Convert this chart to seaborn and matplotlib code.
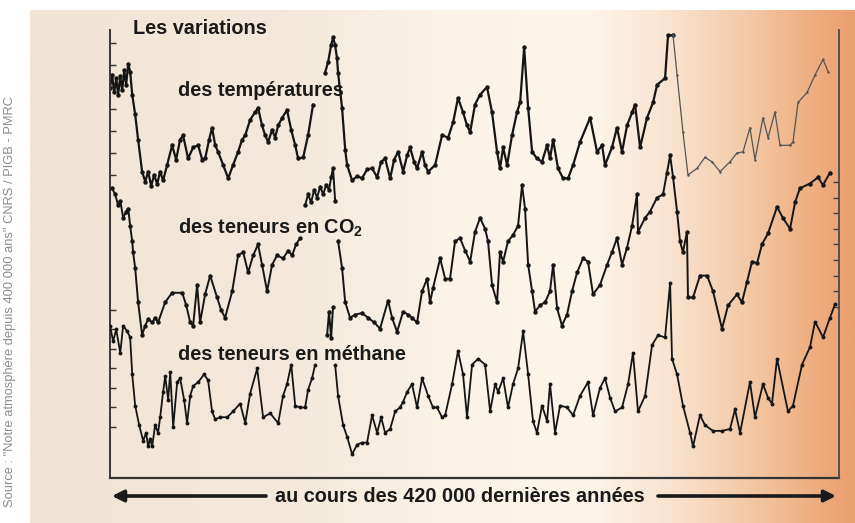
import numpy as np
import pandas as pd
import matplotlib
matplotlib.use('Agg')
import matplotlib.pyplot as plt
from matplotlib.colors import LinearSegmentedColormap
import seaborn as sns

# Vostok : âge en milliers d'années avant aujourd'hui, valeurs lues sur la figure
# température (écart en °C), deux tronçons séparés par une lacune
temp_age_1 = [420.0, 418.8, 417.6, 416.4, 415.3, 414.1, 413.0, 411.8, 410.7, 409.5,
              408.4, 407.2, 405.5, 403.8, 401.5, 399.7, 398.0, 396.3, 394.6, 392.8,
              391.1, 389.4, 387.1, 384.2, 381.9, 379.6, 377.9, 375.0, 372.1, 369.2,
              366.9, 365.2, 362.9, 361.2, 359.4, 357.7, 354.8, 351.9, 349.1, 346.2,
              343.9, 342.1, 339.3, 336.4, 334.7, 332.4, 330.6, 328.9, 326.6, 324.9,
              323.1, 320.8, 318.0, 315.6, 313.3, 311.6, 308.7, 305.9, 303.0]
temp_val_1 = [-0.1, 1.1, -0.5, 0.8, -0.7, 1.0, -0.3, 1.5, 0.2, 2.1,
              1.4, -0.7, -2.5, -4.8, -7.7, -8.6, -7.7, -9.0, -8.0, -8.8,
              -7.7, -8.5, -7.1, -5.3, -6.6, -4.8, -4.4, -6.5, -5.5, -5.3,
              -6.6, -6.5, -4.8, -3.7, -5.3, -5.9, -7.1, -8.3, -7.1, -5.9,
              -4.8, -4.4, -3.0, -2.3, -1.9, -3.5, -4.4, -5.0, -3.9, -4.6,
              -3.5, -2.8, -2.1, -3.9, -5.3, -6.5, -6.4, -4.4, -1.6]
temp_age_2 = [296.1, 294.3, 292.6, 291.5, 290.3, 289.2, 288.6, 286.3, 284.5, 283.4,
              280.5, 277.6, 274.8, 271.9, 269.0, 266.1, 263.8, 261.5, 258.6, 256.3,
              254.0, 251.1, 248.8, 247.1, 244.8, 243.1, 240.2, 238.5, 236.7, 232.7,
              228.7, 225.2, 222.3, 219.5, 216.6, 214.3, 212.5, 209.7, 206.8, 202.8,
              199.9, 197.0, 195.3, 193.5, 191.2, 188.4, 185.5, 183.7, 181.4, 179.1,
              176.8, 174.0, 171.1, 168.2, 166.5, 164.7, 161.9, 159.0, 156.1, 153.2,
              149.2, 143.4, 139.4, 136.5, 134.8, 130.8, 127.9, 125.0, 122.1, 119.2,
              117.5, 114.6, 110.6, 107.1, 104.8, 100.2, 98.5, 95.6, 93.3, 89.9,
              87.0, 81.8, 77.2, 73.2, 68.5, 62.8, 58.8, 55.3, 51.3, 48.4,
              43.8, 40.9, 36.9, 34.0, 28.2, 26.5, 23.6, 18.4, 13.8, 9.2, 6.3]
temp_val_2 = [1.3, 2.3, 3.8, 4.5, 3.8, 2.6, 1.3, -1.9, -5.7, -7.1,
              -8.5, -8.1, -8.3, -7.5, -7.4, -8.2, -6.8, -6.5, -8.3, -6.6,
              -5.9, -7.7, -6.2, -5.5, -6.8, -7.4, -5.9, -7.1, -7.7, -7.1,
              -4.4, -4.6, -3.2, -1.0, -2.3, -3.5, -4.1, -1.6, -0.7, 0.0,
              -2.3, -5.9, -7.4, -5.5, -7.1, -4.4, -2.3, -1.4, 3.6, -1.9,
              -5.9, -6.5, -6.8, -5.3, -6.5, -4.8, -7.4, -8.3, -8.3, -7.1,
              -5.0, -2.8, -5.9, -5.3, -7.1, -5.5, -3.7, -5.9, -3.5, -2.3,
              -1.6, -5.5, -2.8, -1.4, 0.2, 0.8, 4.7, 4.7, 1.1, -4.1,
              -8.0, -7.4, -6.4, -6.8, -7.7, -6.8, -6.0, -5.9, -3.7, -6.6,
              -2.8, -4.6, -2.3, -5.3, -5.3, -5.0, -1.4, -0.5, 1.1, 2.5, 1.4]

# CO2 (ppmv), quatre tronçons
co2_age_1 = [418.8, 417.0, 415.3, 414.1, 412.4, 410.7, 409.5, 408.4, 407.2, 406.7,
             405.5, 403.8, 401.5, 399.7, 398.0, 395.7, 394.0, 392.3, 388.2, 384.2,
             378.4, 376.1, 373.8, 372.1, 369.8, 368.1, 365.2, 362.3, 358.3, 356.0,
             353.7, 349.6, 346.2, 343.3, 340.4, 337.5, 334.7, 332.4, 329.5, 326.6,
             323.7, 320.3, 317.4, 315.1, 312.8, 310.5]
co2_val_1 = [276, 272, 265, 268, 257, 261, 263, 252, 242, 235,
             225, 203, 182, 188, 192, 190, 193, 190, 203, 209,
             209, 201, 190, 188, 214, 190, 208, 220, 206, 198,
             193, 210, 233, 235, 222, 233, 240, 227, 210, 227,
             233, 231, 236, 233, 240, 244]
co2_age_2 = [307.6, 305.9, 304.1, 302.4, 300.7, 298.9, 297.2, 295.5, 293.8, 292.6, 291.5, 290.3]
co2_val_2 = [265, 272, 267, 275, 270, 277, 272, 278, 275, 283, 289, 268]
co2_age_3 = [294.9, 293.8, 292.6, 291.5]
co2_val_3 = [182, 197, 180, 200]
co2_age_4 = [288.6, 286.3, 284.5, 281.7, 278.8, 274.8, 271.3, 267.8, 264.4, 259.8,
             257.5, 254.6, 251.1, 248.3, 246.0, 243.1, 240.2, 237.3, 235.6, 233.9,
             229.8, 226.9, 224.1, 221.2, 218.3, 215.4, 212.5, 209.7, 206.8, 203.9,
             202.2, 199.9, 197.0, 195.3, 193.5, 190.7, 187.8, 184.9, 182.6, 180.9,
             179.1, 176.8, 175.1, 172.2, 169.3, 166.5, 164.7, 162.4, 159.6, 156.7,
             153.8, 150.9, 147.5, 144.6, 141.7, 137.7, 133.6, 130.8, 127.9, 125.0,
             122.1, 119.2, 116.4, 115.8, 111.7, 108.9, 104.8, 101.4, 99.1, 97.3,
             95.6, 93.3, 91.6, 89.9, 87.6, 87.0, 84.1, 80.1, 76.0, 72.6,
             67.4, 63.9, 58.8, 55.9, 53.0, 50.1, 47.2, 44.4, 40.9, 35.7,
             32.3, 28.2, 25.3, 22.5, 16.7, 12.1, 9.2, 5.2]
co2_val_4 = [242, 225, 203, 193, 195, 196, 193, 190, 186, 204,
             193, 184, 197, 195, 193, 190, 210, 218, 203, 212,
             231, 218, 218, 242, 244, 236, 229, 248, 257, 250,
             242, 214, 203, 235, 229, 242, 246, 252, 278, 263,
             227, 210, 197, 201, 203, 210, 227, 199, 188, 195,
             210, 222, 231, 229, 208, 214, 227, 235, 244, 227,
             238, 252, 272, 248, 257, 261, 270, 272, 286, 297,
             283, 261, 242, 235, 248, 206, 206, 220, 220, 210,
             186, 201, 208, 203, 216, 229, 228, 240, 247, 264,
             257, 250, 267, 276, 279, 283, 278, 286]

# méthane (ppbv), deux tronçons
ch4_age_1 = [420.0, 418.2, 416.4, 414.1, 412.4, 410.1, 408.4, 407.2, 405.5, 403.2,
             400.9, 399.2, 398.0, 396.9, 395.7, 394.0, 392.3, 391.1, 389.4, 388.2,
             386.5, 385.3, 383.6, 381.3, 379.6, 377.3, 375.6, 373.8, 372.1, 369.2,
             365.8, 363.5, 361.2, 359.4, 356.5, 352.5, 349.1, 345.0, 342.1, 339.3,
             335.2, 331.8, 327.7, 323.1, 320.3, 318.0, 315.6, 313.3, 310.5, 307.6,
             305.9, 303.6, 301.8]
ch4_val_1 = [660, 620, 650, 590, 660, 645, 630, 535, 455, 405,
             365, 385, 350, 370, 350, 405, 385, 425, 490, 530,
             470, 540, 400, 515, 525, 470, 410, 480, 505, 515,
             535, 520, 440, 420, 425, 425, 440, 460, 410, 485,
             550, 425, 435, 410, 480, 510, 560, 455, 450, 450,
             495, 525, 560]
ch4_age_2 = [290.3, 288.6, 285.7, 283.4, 280.5, 277.6, 274.8, 271.9, 269.0, 266.1,
             263.8, 261.5, 258.6, 255.7, 252.9, 251.1, 248.8, 246.0, 243.1, 240.2,
             236.7, 233.9, 231.6, 228.7, 226.9, 222.9, 219.5, 216.6, 214.3, 211.4,
             207.9, 203.9, 201.0, 198.1, 196.4, 193.5, 190.7, 187.8, 184.9, 182.0,
             179.1, 176.3, 174.0, 171.1, 168.2, 166.5, 163.6, 160.7, 156.7, 153.2,
             149.2, 144.6, 141.7, 137.7, 134.8, 131.9, 129.0, 125.0, 121.5, 118.7,
             115.8, 111.7, 107.7, 104.3, 100.2, 97.3, 96.2, 93.3, 89.9, 85.8,
             84.1, 80.1, 77.2, 72.6, 67.4, 62.8, 59.9, 57.0, 51.3, 48.4,
             43.8, 40.9, 38.6, 35.7, 29.4, 26.5, 21.3, 16.7, 13.8, 9.2, 5.2, 2.3]
ch4_val_2 = [560, 480, 405, 375, 330, 355, 360, 360, 430, 385,
             425, 385, 395, 440, 450, 465, 490, 510, 450, 525,
             480, 450, 450, 425, 430, 510, 595, 535, 425, 560,
             575, 560, 440, 510, 490, 525, 450, 510, 550, 645,
             535, 415, 385, 455, 415, 510, 385, 455, 450, 430,
             480, 515, 430, 500, 525, 475, 440, 450, 510, 590,
             440, 480, 610, 635, 630, 770, 575, 535, 455, 385,
             350, 430, 405, 390, 390, 395, 445, 385, 515, 425,
             510, 475, 460, 575, 440, 455, 560, 605, 670, 630, 680, 715]

texte_source = 'Source : "Notre atmosphère depuis 400 000 ans" CNRS / PIGB - PMRC'


def tronçons(*paires):
    lignes = []
    for k, (ages, vals) in enumerate(paires):
        for a, v in zip(ages, vals):
            lignes.append((k, a, v))
    return pd.DataFrame(lignes, columns=['troncon', 'age', 'valeur'])


df_temp = tronçons((temp_age_1, temp_val_1), (temp_age_2, temp_val_2))
df_co2 = tronçons((co2_age_1, co2_val_1), (co2_age_2, co2_val_2),
                  (co2_age_3, co2_val_3), (co2_age_4, co2_val_4))
df_ch4 = tronçons((ch4_age_1, ch4_val_1), (ch4_age_2, ch4_val_2))

# la partie récente de la courbe des températures est tracée en trait fin
temp_ancien = df_temp[df_temp['age'] >= 95.6]
temp_recent = df_temp[df_temp['age'] <= 95.6]

sns.set_style('white')
plt.rcParams['font.family'] = ['Liberation Sans', 'DejaVu Sans']

fig = plt.figure(figsize=(8.55, 5.23), dpi=100)
fig.patch.set_facecolor('white')

# fond en dégradé beige -> orangé
fond = fig.add_axes([30 / 855, 0, 825 / 855, 513 / 523])
degrade = LinearSegmentedColormap.from_list('fond', [
    (0.0, '#f1e5d6'), (0.3, '#f3e8db'), (0.5, '#fbf2e8'), (0.68, '#fdf4ea'),
    (0.78, '#f9e3cf'), (0.88, '#f3c6a2'), (0.95, '#eeae81'), (1.0, '#ea9f70')])
fond.imshow(np.linspace(0, 1, 600)[None, :], aspect='auto', cmap=degrade,
            extent=(0, 1, 0, 1))
fond.set_axis_off()

ax = fig.add_axes([110 / 855, 45 / 523, 729 / 855, 448 / 523])
ax.patch.set_alpha(0)
ax_c = ax.twinx()
ax_m = ax.twinx()

style = dict(units='troncon', estimator=None, legend=False, marker='o',
             markeredgewidth=0)
sns.lineplot(data=temp_ancien, x='age', y='valeur', ax=ax, color='#151515',
             lw=1.6, markersize=3.2, **style)
sns.lineplot(data=temp_recent, x='age', y='valeur', ax=ax, color='#555555',
             lw=0.9, markersize=1.8, **style)
sns.lineplot(data=df_co2, x='age', y='valeur', ax=ax_c, color='#151515',
             lw=1.4, markersize=3.2, **style)
sns.lineplot(data=df_ch4, x='age', y='valeur', ax=ax_m, color='#151515',
             lw=1.3, markersize=2.8, **style)

for a in (ax, ax_c, ax_m):
    a.set_xlabel('')
    a.set_ylabel('')
    for s in a.spines.values():
        s.set_visible(False)

ax.set_xlim(420, 0)
ax.set_xticks([320, 220, 120, 20])
ax.set_xticklabels([])
ax.tick_params(axis='x', direction='in', length=9.5, width=1.3, color='#333333')

ax.set_ylim(-35.55, 5.18)
ax.set_yticks(range(-8, 5, 2))
ax.set_yticklabels([])
ax.tick_params(axis='y', direction='in', length=4.5, width=1, color='#333333')

ax_c.set_ylim(90.3, 377.4)
ax_c.set_yticks(range(200, 281, 10))
ax_c.set_yticklabels([])
ax_c.tick_params(axis='y', direction='in', length=4, width=1, color='#444444')

ax_m.set_ylim(269.2, 1418)
ax_m.yaxis.tick_left()
ax_m.set_yticks(range(400, 701, 50))
ax_m.set_yticklabels([])
ax_m.tick_params(axis='y', direction='in', length=4.5, width=1, color='#333333')

ax.spines['left'].set_visible(True)
ax.spines['bottom'].set_visible(True)
ax.spines['left'].set_color('#3a3a3a')
ax.spines['left'].set_linewidth(1.4)
ax.spines['bottom'].set_color('#333333')
ax.spines['bottom'].set_linewidth(1.6)
ax_c.spines['right'].set_visible(True)
ax_c.spines['right'].set_color('#4a4a4a')
ax_c.spines['right'].set_linewidth(1.3)

# textes
titre = dict(fontsize=14.3, fontweight='bold', color='#1a1a1a', va='center', ha='left')
fig.text(133 / 855, 1 - 29 / 523, 'Les variations', **titre)
fig.text(178 / 855, 1 - 90 / 523, 'des températures', **titre)
fig.text(178 / 855, 1 - 228 / 523, r'des teneurs en CO$_\mathregular{2}$', **titre)
fig.text(178 / 855, 1 - 355 / 523, 'des teneurs en méthane', **titre)
fig.text(460 / 855, 1 - 496 / 523, 'au cours des 420 000 dernières années',
         fontsize=14.3, fontweight='bold', color='#1a1a1a', va='center', ha='center')

fleche = dict(arrowstyle='-|>', lw=2.6, color='#1a1a1a', mutation_scale=17,
              shrinkA=0, shrinkB=0)
y_fl = 1 - 496 / 523
ax.annotate('', xy=(112 / 855, y_fl), xytext=(266 / 855, y_fl),
            xycoords='figure fraction', textcoords='figure fraction',
            arrowprops=fleche, annotation_clip=False)
ax.annotate('', xy=(836 / 855, y_fl), xytext=(658 / 855, y_fl),
            xycoords='figure fraction', textcoords='figure fraction',
            arrowprops=fleche, annotation_clip=False)

fig.text(10 / 855, 1 - 96 / 523, texte_source, rotation=90, fontsize=9.3,
         color='#8c8c8c', ha='center', va='top')

fig.savefig('out.png', dpi=100)
